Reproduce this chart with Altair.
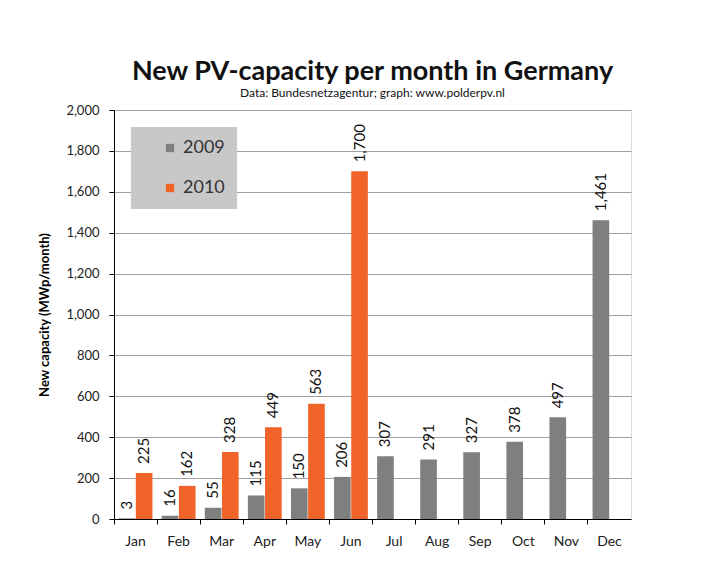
import altair as alt
import pandas as pd

months = ["Jan", "Feb", "Mar", "Apr", "May", "Jun", "Jul", "Aug", "Sep", "Oct", "Nov", "Dec"]
y2009 = [3, 16, 55, 115, 150, 206, 307, 291, 327, 378, 497, 1461]
y2010 = [225, 162, 328, 449, 563, 1700]
years = ["2009", "2010"]
colors = ["#7f7f7f", "#f0642a"]

rows = []
for m, v in zip(months, y2009):
    rows.append({"month": m, "year": "2009", "value": v, "label": f"{v:,}"})
for m, v in zip(months, y2010):
    rows.append({"month": m, "year": "2010", "value": v, "label": f"{v:,}"})
df = pd.DataFrame(rows)

FONT = "Lato"

x = alt.X("month:N", sort=months, title=None,
          scale=alt.Scale(paddingInner=0, paddingOuter=0),
          axis=alt.Axis(labelAngle=0, bandPosition=0, labelFontSize=14, labelColor="#222",
                        domainColor="#000", tickColor="#000", tickSize=5, labelPadding=10,
                        labelFont=FONT, grid=False))
xo = alt.XOffset("year:N", scale=alt.Scale(domain=years, paddingOuter=0.27, paddingInner=0.03))
y = alt.Y("value:Q", title="New capacity (MWp/month)",
          scale=alt.Scale(domain=[0, 2000]),
          axis=alt.Axis(values=list(range(0, 2001, 200)), format=",d", labelFontSize=13,
                        labelFont=FONT, labelColor="#222", domainColor="#000", tickColor="#000",
                        tickSize=5, labelPadding=10, gridColor="#a0a0a0",
                        titleFont=FONT, titleFontSize=13, titleFontWeight="bold",
                        titleColor="#000", titlePadding=14))

bars = alt.Chart(df).mark_bar().encode(
    x=x, xOffset=xo, y=y,
    color=alt.Color("year:N", scale=alt.Scale(domain=years, range=colors),
                    legend=alt.Legend(title=None, orient="none", legendX=17, legendY=17,
                                      fillColor="#c8c8c8", padding=12, rowPadding=22,
                                      symbolType="square", symbolSize=70, symbolOffset=18,
                                      labelFontSize=18, labelFont=FONT, labelColor="#333",
                                      labelExpr="datum.label + '        '")),
)

labels = alt.Chart(df).mark_text(angle=270, align="left", baseline="middle", dx=9,
                                 fontSize=15, font=FONT, color="#111").encode(
    x=x, xOffset=xo, y=y, text=alt.Text("label:N")
)

chart = (bars + labels).properties(
    width=517, height=409,
    title=alt.TitleParams("New PV-capacity per month in Germany",
                          subtitle="Data: Bundesnetzagentur; graph: www.polderpv.nl",
                          font=FONT, fontSize=27, fontWeight="bold", color="#111",
                          subtitleFont=FONT, subtitleFontSize=12, subtitleColor="#111",
                          subtitlePadding=2, offset=4, anchor="middle"),
    padding={"left": 30, "top": 50, "right": 10, "bottom": 5},
).configure_view(stroke="#a0a0a0").configure(background="white")

chart.save("out.html", embed_options={"renderer": "svg", "actions": False})
